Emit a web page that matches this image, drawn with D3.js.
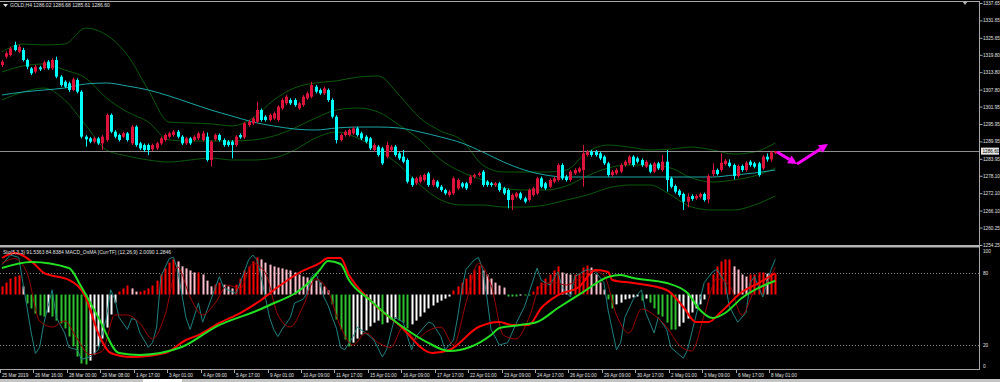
<!DOCTYPE html>
<html><head><meta charset="utf-8">
<script src="https://cdn.jsdelivr.net/npm/d3@7"></script>
<style>body{margin:0;background:#000}svg{display:block}text{font-family:"Liberation Sans",Arial,sans-serif}</style>
</head><body>
<svg id="c" width="1000" height="382"></svg>
<script>
// ---------- DATA ----------
const symbol = "GOLD,H4";
const headerOHLC = "1286.02 1286.68 1285.61 1286.60";
const indHeader = "Sto(5,3,3) 91.5363 84.8384  MACD_OsMA [CurrTF] (12,26,9) 2.0090 1.2846";
const opens = [
1316.28,1319.15,1319.72,1323.17,1320.87,1321.45,1318.00,1315.13,1313.98,1315.47,
1315.13,1317.43,1315.13,1318.00,1312.26,1310.53,1309.96,1307.66,1311.11,1307.09,
1291.58,1291.00,1289.86,1291.00,1289.28,1290.43,1299.05,1293.30,1292.15,1291.58,
1292.73,1289.28,1295.02,1289.28,1288.70,1288.70,1287.21,1287.56,1289.28,1290.43,
1291.58,1292.15,1293.30,1291.58,1289.28,1291.00,1290.43,1291.00,1290.43,1291.58,
1283.54,1290.66,1292.15,1290.43,1289.86,1289.86,1288.70,1292.15,1291.35,1295.60,
1296.17,1296.75,1300.77,1298.47,1297.32,1297.90,1297.32,1301.34,1303.07,1304.22,
1304.22,1301.34,1302.49,1304.79,1305.36,1308.81,1307.66,1306.51,1307.66,1304.22,
1298.47,1290.43,1292.15,1292.15,1292.73,1294.45,1292.73,1291.58,1291.00,1286.98,
1288.13,1287.56,1284.69,1286.98,1288.13,1285.84,1284.69,1283.54,1277.22,1275.50,
1276.07,1276.65,1278.94,1274.92,1276.07,1274.35,1273.20,1271.48,1272.05,1273.77,
1275.50,1275.50,1275.50,1277.79,1278.37,1279.52,1276.07,1275.50,1274.92,1275.50,
1273.77,1273.20,1269.75,1270.90,1272.05,1270.33,1269.75,1271.48,1272.05,1277.22,
1275.50,1274.35,1276.07,1276.65,1281.81,1277.79,1276.65,1278.94,1279.52,1280.09,
1285.26,1286.41,1286.41,1285.84,1284.69,1282.39,1278.37,1278.94,1279.52,1281.81,
1282.39,1284.69,1284.11,1283.54,1281.24,1281.81,1279.52,1282.39,1280.09,1282.96,
1277.22,1274.57,1272.97,1271.82,1269.17,1271.13,1270.32,1270.90,1271.82,1269.98,
1278.71,1280.09,1280.09,1282.16,1282.62,1281.81,1278.02,1281.47,1280.09,1282.96,
1282.39,1282.39,1280.66,1284.68,1283.76,1286.02];
const highs = [
1318.0,1321.0,1322.6,1324.32,1323.2,1322.2,1318.5,1315.6,1316.3,1316.0,
1317.8,1318.0,1318.6,1319.15,1312.8,1311.0,1310.5,1311.9,1311.68,1307.6,
1292.1,1291.5,1291.6,1291.5,1292.2,1299.6,1299.6,1293.8,1292.6,1293.3,
1293.2,1295.6,1295.5,1289.8,1289.2,1289.2,1289.2,1289.8,1291.6,1292.7,
1293.3,1293.9,1293.9,1292.1,1291.5,1291.5,1292.1,1293.3,1293.5,1293.0,
1290.4,1292.7,1292.7,1291.0,1290.4,1290.4,1292.1,1292.7,1296.7,1297.3,
1298.4,1303.64,1301.3,1299.0,1299.6,1300.2,1302.5,1304.8,1305.9,1304.8,
1304.8,1303.6,1305.9,1307.1,1310.53,1309.4,1308.2,1308.8,1308.2,1304.8,
1299.0,1292.7,1293.8,1294.4,1295.0,1295.0,1293.3,1292.1,1291.5,1289.3,
1288.7,1288.1,1289.86,1288.7,1288.7,1286.4,1286.98,1284.1,1277.8,1277.8,
1278.4,1278.9,1279.5,1277.2,1276.6,1274.9,1273.7,1273.2,1277.8,1277.2,
1276.0,1276.0,1278.4,1278.9,1279.5,1280.1,1276.6,1276.0,1276.0,1276.0,
1274.3,1273.7,1272.0,1272.6,1272.6,1270.9,1273.7,1274.3,1277.8,1277.8,
1276.0,1277.2,1277.8,1282.4,1282.4,1278.4,1280.1,1280.7,1281.2,1288.71,
1287.0,1287.0,1287.0,1286.4,1285.2,1282.9,1280.1,1280.7,1282.4,1283.5,
1285.2,1285.2,1284.7,1284.1,1283.5,1282.4,1282.9,1282.9,1285.26,1286.98,
1277.8,1275.1,1273.5,1272.3,1272.05,1271.7,1271.7,1272.3,1272.3,1278.6,
1282.39,1280.6,1285.83,1283.9,1283.76,1282.3,1282.0,1282.0,1283.2,1283.5,
1282.9,1282.9,1285.2,1285.83,1286.7,1286.68];
const lows = [
1315.6,1318.5,1319.2,1321.0,1320.4,1317.5,1314.8,1312.83,1313.4,1314.2,
1314.6,1314.6,1314.6,1311.7,1308.8,1308.3,1307.0,1307.2,1306.51,1291.0,
1288.13,1289.3,1289.3,1288.7,1286.98,1289.8,1292.8,1291.0,1289.9,1291.1,
1289.9,1288.7,1288.1,1287.0,1286.4,1285.26,1286.6,1287.0,1288.7,1289.9,
1291.0,1291.6,1291.0,1288.7,1288.7,1288.7,1289.9,1290.4,1289.9,1283.0,
1281.24,1290.1,1289.9,1288.1,1288.1,1284.11,1288.1,1290.8,1290.8,1295.0,
1295.6,1296.2,1296.8,1296.8,1296.8,1297.4,1296.8,1300.8,1302.5,1302.5,
1301.9,1300.8,1301.9,1304.2,1304.8,1306.5,1306.0,1306.0,1303.6,1297.9,
1289.28,1289.9,1291.6,1291.6,1292.2,1291.6,1290.4,1289.3,1287.0,1286.4,
1284.7,1281.8,1284.1,1286.4,1284.7,1283.5,1282.4,1275.5,1274.3,1274.9,
1275.5,1276.1,1274.3,1274.3,1273.8,1272.6,1271.5,1270.9,1271.5,1273.2,
1273.8,1273.2,1274.9,1277.2,1277.8,1274.3,1274.3,1274.3,1274.3,1272.6,
1271.5,1266.88,1266.31,1270.3,1269.8,1268.6,1269.2,1270.9,1271.5,1273.8,
1273.2,1273.8,1275.5,1276.1,1276.6,1276.1,1276.1,1278.4,1279.0,1274.35,
1284.7,1284.7,1284.7,1283.5,1281.8,1277.8,1277.8,1278.4,1279.0,1281.2,
1281.8,1281.2,1282.4,1281.2,1280.7,1279.0,1279.0,1280.1,1279.5,1272.62,
1273.8,1272.0,1270.9,1266.30,1267.22,1269.5,1269.8,1270.3,1269.2,1268.6,
1277.79,1278.2,1279.5,1281.6,1281.0,1276.87,1277.5,1279.5,1279.5,1281.2,
1280.7,1277.8,1280.1,1282.96,1282.96,1285.61];
const closes = [
1317.43,1320.30,1322.02,1321.45,1322.60,1318.00,1315.70,1313.41,1315.70,1314.78,
1317.20,1315.13,1318.00,1312.26,1309.38,1308.81,1307.66,1311.34,1307.09,1291.58,
1290.66,1289.86,1291.00,1289.28,1291.58,1299.05,1293.30,1291.58,1290.43,1292.73,
1290.43,1295.02,1288.70,1287.56,1286.98,1286.98,1288.70,1289.28,1291.00,1292.15,
1292.73,1293.30,1291.58,1289.28,1291.00,1289.28,1291.58,1292.73,1292.73,1283.54,
1289.86,1292.15,1290.43,1288.70,1288.70,1288.70,1291.58,1291.35,1296.17,1296.75,
1297.90,1300.77,1297.32,1297.32,1299.05,1299.62,1301.92,1304.22,1305.36,1303.07,
1302.49,1303.07,1305.36,1306.51,1309.38,1307.09,1306.51,1308.24,1304.22,1298.47,
1290.43,1292.15,1293.30,1293.88,1294.45,1292.15,1291.00,1289.86,1287.56,1288.71,
1285.26,1282.39,1288.71,1288.13,1285.26,1284.11,1282.96,1276.07,1274.92,1277.22,
1277.79,1278.37,1274.92,1276.65,1274.35,1273.20,1272.05,1272.63,1277.22,1276.65,
1274.35,1273.77,1277.79,1278.37,1278.94,1274.92,1274.92,1274.92,1275.50,1273.20,
1272.05,1269.75,1271.48,1272.05,1270.33,1269.18,1273.20,1273.77,1277.22,1274.35,
1273.77,1276.65,1277.22,1281.81,1277.22,1276.65,1279.52,1280.09,1280.67,1285.84,
1286.41,1285.26,1285.26,1284.11,1282.39,1278.37,1279.52,1280.09,1281.81,1282.96,
1284.69,1281.81,1282.96,1281.81,1282.96,1279.52,1282.39,1280.67,1282.96,1276.65,
1274.35,1272.62,1271.47,1269.17,1270.90,1270.09,1271.13,1271.82,1269.75,1278.02,
1280.09,1278.71,1282.62,1283.30,1281.47,1278.02,1281.47,1280.09,1282.62,1281.81,
1281.24,1278.37,1284.68,1283.76,1286.18,1286.60];

// Bollinger bands and slow MA, read every 5 bars
const bandBars = [0,5,10,15,20,25,30,35,40,45,50,55,60,65,70,75,80,85,90,95,100,105,110,115,120,125,130,135,140,145,150,155,160,165,170,175,180,185];
const bbUpper = [1320.8,1323.5,1323.2,1323.5,1329.0,1326.6,1319.7,1307.7,1296.6,1296.3,1296.0,1295.3,1298.0,1304.2,1308.4,1310.1,1310.8,1312.1,1312.5,1305.9,1298.0,1293.5,1290.4,1281.8,1279.4,1279.4,1279.4,1280.1,1286.3,1288.7,1288.0,1287.0,1287.3,1288.0,1287.0,1285.6,1286.3,1289.4];
const bbMiddle = [1313.87,1315.93,1316.62,1314.56,1311.80,1304.91,1300.08,1296.63,1290.43,1290.09,1290.09,1290.09,1290.43,1291.81,1294.57,1298.01,1300.77,1301.46,1300.08,1295.60,1290.43,1283.54,1279.40,1276.65,1273.89,1273.20,1273.20,1274.58,1278.03,1280.78,1281.82,1281.82,1280.78,1277.33,1275.95,1276.65,1278.03,1280.78];
const bbLower = [1304.22,1306.97,1308.35,1304.22,1295.60,1286.99,1284.92,1283.54,1282.85,1283.54,1284.23,1283.54,1283.54,1284.23,1286.99,1291.12,1293.19,1291.12,1286.99,1281.82,1274.92,1269.75,1268.03,1268.03,1267.34,1267.34,1268.03,1269.75,1271.48,1273.89,1274.92,1274.92,1271.48,1267.34,1266.31,1266.31,1268.03,1271.13];
const slowMA = [1305.94,1306.97,1307.66,1308.35,1309.73,1310.08,1309.04,1307.66,1305.60,1303.18,1300.77,1298.70,1296.63,1295.26,1294.22,1293.88,1294.57,1294.91,1294.91,1294.57,1293.19,1291.46,1289.40,1286.30,1282.85,1280.09,1278.37,1277.68,1277.68,1277.68,1277.68,1277.68,1277.68,1277.68,1277.68,1278.37,1279.06,1280.09];

const priceTicks = [1337.65,1331.65,1325.65,1319.80,1313.80,1307.80,1301.95,1295.95,1289.95,1283.95,1278.10,1272.10,1266.10,1260.25,1254.25];
const lastPrice = 1286.60;
const timeBars = [0,8,16,24,32,40,48,56,64,72,80,88,96,104,112,120,128,136,144,152,160,168,176,184];
const timeLabels = ["25 Mar 2019","26 Mar 16:00","28 Mar 00:00","29 Mar 08:00","1 Apr 17:00","3 Apr 01:00","4 Apr 09:00","5 Apr 17:00","9 Apr 01:00","10 Apr 09:00","11 Apr 17:00","15 Apr 01:00","16 Apr 09:00","17 Apr 17:00","22 Apr 01:00","23 Apr 09:00","24 Apr 17:00","26 Apr 01:00","29 Apr 09:00","30 Apr 17:00","2 May 01:00","3 May 09:00","6 May 17:00","8 May 01:00"];
const levelTicks = [100,80,20,0];

// Stochastic %K and %D (bar index, value)
const stochKBars = [0,2,4,5,7,8,9,10,11,12,13,15,16,18,19,21,23,25,26,27,28,30,31,32,33,35,36,37,38,40,41,42,44,45,47,48,50,52,53,54,56,57,59,60,61,62,63,64,65,66,67,69,70,72,73,74,75,76,77,78,79,80,81,82,84,85,87,88,89,91,92,93,94,96,97,98,99,101,102,103,105,106,108,109,110,111,113,114,115,116,117,119,121,123,125,128,129,131,133,134,136,137,140,142,144,145,147,148,149,151,153,154,156,157,159,160,163,164,165,167,168,170,171,173,174,176,178,179,180,182,184,185];
const stochK = [87,95,93,72,30,13,18,38,52,66,43,30,18,16,8,10,16,43,66,58,43,33,42,41,30,18,22,35,77,92,93,83,43,33,55,39,58,77,68,66,63,72,91,95,91,77,60,43,33,27,33,43,55,58,63,77,80,72,60,53,43,34,18,16,27,35,30,27,24,10,16,30,43,39,27,16,27,35,39,38,27,16,24,43,66,83,91,93,83,60,33,20,22,38,52,84,74,70,81,68,60,77,83,81,72,49,16,22,43,58,66,47,30,43,33,18,9,16,30,58,72,81,83,72,52,39,47,72,77,60,83,91.54];
const stochDBars = [0,3,6,9,12,15,18,21,24,27,30,33,36,39,42,45,48,51,54,57,60,63,66,69,72,75,78,81,84,87,90,93,96,99,102,105,108,111,114,117,120,123,126,129,132,135,138,141,144,147,150,153,156,159,162,165,168,171,174,177,180,183,185];
const stochD = [88,92,80,40,35,40,25,12,15,45,45,38,25,45,85,60,45,55,70,67,88,80,45,35,52,75,65,35,20,30,22,18,35,25,32,35,20,55,88,70,28,25,42,70,72,70,75,82,78,45,30,50,45,35,20,15,45,75,70,45,65,72,84.84];

// MACD main / signal (bar index, value) and OsMA histogram (every bar)
const macdBars = [0,3,8,10,16,20,23,26,31,39,44,47,52,57,62,66,71,76,78,81,83,88,95,103,107,114,119,122,126,129,133,138,142,145,146,151,159,163,166,169,172,177,181,185];
const macdMain = [3.41,3.88,2.76,2.01,1.36,-0.23,-3.60,-5.47,-5.84,-5.47,-4.25,-3.79,-2.66,-1.73,-0.51,0.70,2.01,2.94,3.41,3.41,1.82,-0.51,-2.85,-5.47,-5.19,-3.04,-2.57,-2.85,-2.85,-1.26,-0.05,0.70,2.29,2.10,1.36,1.07,0.42,-1.17,-2.57,-2.57,-1.64,0.23,1.07,2.01];
const signalBars = [0,7,16,19,23,28,33,43,51,63,74,76,78,81,83,88,93,98,102,107,112,117,119,124,128,133,139,145,148,151,159,164,167,170,173,177,181,185];
const macdSignal = [2.48,3.04,2.48,0.70,-2.10,-5.47,-5.65,-4.91,-3.04,-1.17,1.36,2.29,3.13,2.85,1.36,-0.51,-2.20,-3.60,-4.53,-5.28,-4.91,-3.79,-3.13,-2.85,-2.57,-1.26,0.23,1.64,1.82,1.54,1.07,0.14,-1.45,-2.20,-1.73,-0.33,0.61,1.28];
const osma = [.28,.41,.55,.62,.66,.28,-.31,-.48,-.66,-.72,
-.76,-.62,-.76,-.9,-1,-1.17,-1.45,-1.79,-2.14,-2.38,
-2.41,-2.28,-2.07,-1.79,-1.52,-1.14,-.69,-.28,.1,.21,
.31,.21,.1,.1,.14,.21,.31,.48,.69,.9,
1.1,1.21,1.14,.97,.9,.83,.76,.76,.69,.48,
.28,.34,.41,.34,.28,.21,.34,.55,.83,.97,
1.14,1.28,1.21,1.1,1.03,.97,.93,.9,.86,.83,
.76,.69,.62,.59,.55,.48,.41,.28,.14,-.34,
-.86,-1.21,-1.55,-1.79,-1.66,-1.52,-1.38,-1.24,-1.1,-.97,
-.9,-1.03,-.97,-.86,-.83,-.9,-.97,-1.17,-1.03,-.9,
-.76,-.62,-.48,-.38,-.28,-.21,-.14,-.07,.14,.28,
.41,.55,.69,.86,1,.83,.69,.55,.41,.31,
.24,-.07,-.07,-.07,-.03,-.03,-.03,.1,.28,.41,
.55,.69,.83,.97,.76,.72,.69,.69,.72,.93,
1,.93,.69,.41,.17,-.17,-.48,-.34,-.28,-.17,
-.14,-.1,-.07,-.21,-.14,-.28,-.48,-.69,-.76,-.97,
-1.21,-1.21,-1.1,-.97,-.83,-.62,-.48,-.34,-.17,.41,
.69,.97,1.14,1.21,1.21,.97,.86,.69,.62,.69,
.69,.76,.76,.72,.72,.72];

// hand-drawn arrow (bar index, price)
const arrowBars = [185.4,190.2,197.6];
const arrowPrices = [1286.3,1282.16,1289.05];

// ---------- DRAW ----------
const svg = d3.select('#c');
const FRAME = '#a8a8a8', TXT = '#e0e0e0', FS = 4.7;
const BULL = '#dc143c', BEAR = '#00ffff';
const xS = d3.scaleLinear().domain([0,185]).range([2,775.3]);
const yP = d3.scaleLinear().domain([1254.25,1337.65]).range([245,3]);
const yS = d3.scaleLinear().domain([0,100]).range([369,249]);
const yM = d3.scaleLinear().domain([-5,5]).range([348,241]);
const yH = d3.scaleLinear().domain([-2.5,2.5]).range([367,222]);

svg.append('rect').attr('width',1000).attr('height',382).attr('fill','#000');
const defs = svg.append('defs');
defs.append('clipPath').attr('id','cm').append('rect').attr('x',0).attr('y',2).attr('width',979).attr('height',243);
defs.append('clipPath').attr('id','ci').append('rect').attr('x',0).attr('y',248).attr('width',979).attr('height',121);

const main = svg.append('g').attr('clip-path','url(#cm)');
const ind = svg.append('g').attr('clip-path','url(#ci)');

// bands & MA
const bandLine = arr => d3.line().curve(d3.curveMonotoneX).x((d,i)=>xS(bandBars[i])).y(d=>yP(d))(arr);
[bbUpper,bbMiddle,bbLower].forEach(a=>main.append('path').attr('d',bandLine(a)).attr('fill','none').attr('stroke','#0a5a0a').attr('stroke-width',1));
main.append('path').attr('d',bandLine(slowMA)).attr('fill','none').attr('stroke','#1aa6a6').attr('stroke-width',1);

// bid line
main.append('line').attr('x1',0).attr('x2',979).attr('y1',Math.round(yP(lastPrice))+0.5).attr('y2',Math.round(yP(lastPrice))+0.5).attr('stroke','#8e8e8e');

// candles
const cg = main.append('g');
opens.forEach((o,i)=>{
  const c = closes[i], up = c>=o, col = up?BULL:BEAR;
  const hi = Math.max(highs[i],o,c), lo = Math.min(lows[i],o,c);
  const cx = Math.round(xS(i))+0.5;
  cg.append('line').attr('x1',cx).attr('x2',cx).attr('y1',yP(hi)).attr('y2',yP(lo)).attr('stroke',col);
  const t = yP(Math.max(o,c)), b = yP(Math.min(o,c));
  cg.append('rect').attr('x',cx-1.5).attr('width',3).attr('y',t).attr('height',Math.max(1,b-t)).attr('fill',col);
});

// arrow
function arrow(g, p0, p1, col){
  const dx=p1[0]-p0[0], dy=p1[1]-p0[1], L=Math.hypot(dx,dy), ux=dx/L, uy=dy/L;
  const hl=9, hw=4.5;
  const bx=p1[0]-ux*hl, by=p1[1]-uy*hl;
  g.append('line').attr('x1',p0[0]).attr('y1',p0[1]).attr('x2',bx).attr('y2',by).attr('stroke',col).attr('stroke-width',3);
  g.append('path').attr('d',`M${p1[0]},${p1[1]}L${bx-uy*hw},${by+ux*hw}L${bx+uy*hw},${by-ux*hw}Z`).attr('fill',col);
}
const ap = arrowBars.map((b,i)=>[xS(b),yP(arrowPrices[i])]);
arrow(svg, ap[0], ap[1], '#ff00ff');
arrow(svg, ap[1], ap[2], '#ff00ff');

// ---------- indicator ----------
[80,20].forEach(v=>ind.append('line').attr('x1',0).attr('x2',979).attr('y1',Math.round(yS(v))+0.5).attr('y2',Math.round(yS(v))+0.5).attr('stroke','#8a8a8a').attr('stroke-dasharray','1,2'));
osma.forEach((v,i)=>{
  const prev = i>0?osma[i-1]:0;
  let col;
  if(v>=0) col = v>=prev?'#ff0000':'#ffc0cb';
  else col = v<=prev?'#2fc02f':'#ffffff';
  const y0=yH(0), y1=yH(v);
  ind.append('rect').attr('x',Math.round(xS(i))-0.5).attr('width',2).attr('y',Math.min(y0,y1)).attr('height',Math.max(1,Math.abs(y1-y0))).attr('fill',col);
});
const pl = (bars,vals,ys,curve)=>d3.line().curve(curve).x((d,i)=>xS(bars[i])).y(d=>ys(d))(vals);
ind.append('path').attr('d',pl(stochKBars,stochK,yS,d3.curveLinear)).attr('fill','none').attr('stroke','#1f8282').attr('stroke-width',1);
ind.append('path').attr('d',pl(stochDBars,stochD,yS,d3.curveMonotoneX)).attr('fill','none').attr('stroke','#a00000').attr('stroke-width',1);
ind.append('path').attr('d',pl(macdBars,macdMain,yM,d3.curveMonotoneX)).attr('fill','none').attr('stroke','#ff0000').attr('stroke-width',2);
ind.append('path').attr('d',pl(signalBars,macdSignal,yM,d3.curveMonotoneX)).attr('fill','none').attr('stroke','#22e022').attr('stroke-width',2);

// ---------- frames & axes ----------
svg.append('line').attr('x1',0).attr('x2',980).attr('y1',1.5).attr('y2',1.5).attr('stroke',FRAME);
svg.append('line').attr('x1',979.5).attr('x2',979.5).attr('y1',1).attr('y2',370).attr('stroke',FRAME);
svg.append('rect').attr('x',0).attr('y',245).attr('width',980).attr('height',2.5).attr('fill','#b4b4b4');
svg.append('line').attr('x1',0).attr('x2',980).attr('y1',369.5).attr('y2',369.5).attr('stroke',FRAME);
svg.append('path').attr('d','M962,1L968,1L965,5Z').attr('fill','#b0b0b0');

const pa = svg.append('g').attr('transform','translate(979.5,0)')
  .call(d3.axisRight(yP).tickValues(priceTicks).tickSize(3).tickFormat(d3.format('.2f')));
pa.select('.domain').remove();
pa.selectAll('line').attr('stroke',FRAME);
pa.selectAll('text').attr('fill',TXT).attr('font-size',FS).attr('x',3.5).attr('font-family','"Liberation Sans",Arial,sans-serif');

// current price label
const ly = yP(lastPrice);
svg.append('rect').attr('x',981).attr('y',ly-3.5).attr('width',18).attr('height',7).attr('fill','#e6e6e6');
svg.append('text').attr('x',982.5).attr('y',ly).attr('dy','0.35em').attr('font-size',FS).attr('fill','#000').text(d3.format('.2f')(lastPrice));

// indicator axis labels
const ia = svg.append('g');
levelTicks.forEach(v=>{
  const y = Math.min(366, Math.max(251.5, yS(v)));
  ia.append('text').attr('x',983).attr('y',y).attr('dy','0.35em').attr('font-size',FS).attr('fill',TXT).text(v);
});

// time axis
const ta = svg.append('g');
timeBars.forEach((b,i)=>{
  const x = Math.round(xS(b))-1.5;
  ta.append('line').attr('x1',x).attr('x2',x).attr('y1',370).attr('y2',373).attr('stroke',FRAME);
  ta.append('text').attr('x',x+1.5).attr('y',375.5).attr('dy','0.35em').attr('font-size',FS).attr('fill',TXT).text(timeLabels[i]);
});
svg.append('rect').attr('x',0).attr('y',379).attr('width',1000).attr('height',3).attr('fill','#c4c4c4');
svg.append('rect').attr('x',143).attr('y',379).attr('width',39).attr('height',3).attr('fill','#ffffff');

// headers
svg.append('path').attr('d','M3,4L8,4L5.5,7Z').attr('fill','#e0e0e0');
svg.append('text').attr('x',10).attr('y',5.5).attr('dy','0.35em').attr('font-size',5).attr('fill',TXT).text(symbol+'  '+headerOHLC);
svg.append('text').attr('x',3).attr('y',252.5).attr('dy','0.35em').attr('font-size',5).attr('fill',TXT).text(indHeader);
</script>
</body></html>
